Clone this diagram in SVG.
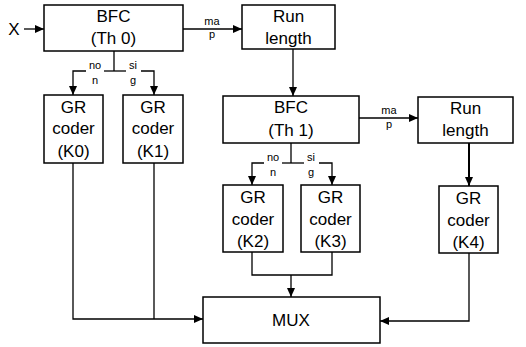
<svg xmlns="http://www.w3.org/2000/svg" width="526" height="347" viewBox="0 0 526 347">
<style>
.box{fill:#fff;stroke:#000;stroke-width:1.5}
.t{font-family:"Liberation Sans",Arial,sans-serif;font-size:17px;fill:#000;text-anchor:middle}
.s{font-family:"Liberation Sans",Arial,sans-serif;font-size:11px;fill:#000;text-anchor:middle}
.ln{fill:none;stroke:#000;stroke-width:1.3}
.lt{fill:none;stroke:#000;stroke-width:2}
</style>
<defs>
<marker id="ah" markerWidth="9" markerHeight="8" refX="9" refY="4" orient="auto" markerUnits="userSpaceOnUse">
<path d="M0,0 L9,4 L0,8 Z" fill="#000"/>
</marker>
</defs>
<rect width="526" height="347" fill="#fff"/>
<g id="connectors">
<text class="t" x="14" y="35">X</text>
<line class="ln" x1="24" y1="29" x2="44" y2="29" marker-end="url(#ah)"/>
<line class="ln" x1="183" y1="29" x2="242" y2="29" marker-end="url(#ah)"/>
<text class="s" x="212" y="25">ma</text>
<text class="s" x="212" y="38">p</text>
<line class="ln" x1="293" y1="49" x2="293" y2="96" marker-end="url(#ah)"/>
<line class="ln" x1="359" y1="118" x2="418" y2="118" marker-end="url(#ah)"/>
<text class="s" x="389" y="114">ma</text>
<text class="s" x="389" y="128">p</text>
<line class="lt" x1="469" y1="143" x2="469" y2="186" marker-end="url(#ah)"/>
<line class="ln" x1="114" y1="51" x2="114" y2="71"/>
<path class="ln" d="M86,71 H73 V95" marker-end="url(#ah)"/>
<path class="ln" d="M104,71 H126"/>
<path class="ln" d="M141,71 H154 V95" marker-end="url(#ah)"/>
<text class="s" x="95" y="69">no</text>
<text class="s" x="95" y="84">n</text>
<text class="s" x="133" y="69">si</text>
<text class="s" x="133" y="84">g</text>
<line class="ln" x1="291" y1="143" x2="291" y2="163"/>
<path class="ln" d="M264,163 H252 V185" marker-end="url(#ah)"/>
<path class="ln" d="M282,163 H304"/>
<path class="ln" d="M319,163 H332 V185" marker-end="url(#ah)"/>
<text class="s" x="273" y="161">no</text>
<text class="s" x="273" y="176">n</text>
<text class="s" x="311" y="161">si</text>
<text class="s" x="311" y="176">g</text>
<path class="ln" d="M73,163 V319 H203" marker-end="url(#ah)"/>
<line class="ln" x1="154" y1="163" x2="154" y2="319"/>
<path class="ln" d="M252,252 V275 H332 V252"/>
<line class="ln" x1="291" y1="275" x2="291" y2="297" marker-end="url(#ah)"/>
<path class="ln" d="M469,253 V321 H380" marker-end="url(#ah)"/>
</g>
<g id="bfc0">
<rect class="box" x="44" y="5" width="139" height="46"/>
<text class="t" x="113.5" y="22">BFC</text>
<text class="t" x="113.5" y="44">(Th 0)</text>
</g>
<g id="rl1">
<rect class="box" x="242" y="5" width="93" height="44"/>
<text class="t" x="288.5" y="22">Run</text>
<text class="t" x="288.5" y="44">length</text>
</g>
<g id="bfc1">
<rect class="box" x="223" y="96" width="136" height="47"/>
<text class="t" x="291" y="113">BFC</text>
<text class="t" x="291" y="136">(Th 1)</text>
</g>
<g id="rl2">
<rect class="box" x="418" y="97" width="95" height="46"/>
<text class="t" x="465.5" y="114">Run</text>
<text class="t" x="465.5" y="136">length</text>
</g>
<g id="gr0">
<rect class="box" x="44" y="95" width="59" height="68"/>
<text class="t" x="73.5" y="113">GR</text>
<text class="t" x="73.5" y="134">coder</text>
<text class="t" x="73.5" y="157">(K0)</text>
</g>
<g id="gr1">
<rect class="box" x="123" y="95" width="60" height="68"/>
<text class="t" x="153" y="113">GR</text>
<text class="t" x="153" y="134">coder</text>
<text class="t" x="153" y="157">(K1)</text>
</g>
<g id="gr2">
<rect class="box" x="223" y="185" width="60" height="67"/>
<text class="t" x="253" y="203">GR</text>
<text class="t" x="253" y="225">coder</text>
<text class="t" x="253" y="247">(K2)</text>
</g>
<g id="gr3">
<rect class="box" x="301" y="185" width="59" height="67"/>
<text class="t" x="330.5" y="203">GR</text>
<text class="t" x="330.5" y="225">coder</text>
<text class="t" x="330.5" y="247">(K3)</text>
</g>
<g id="gr4">
<rect class="box" x="439" y="186" width="59" height="67"/>
<text class="t" x="468.5" y="204">GR</text>
<text class="t" x="468.5" y="226">coder</text>
<text class="t" x="468.5" y="248">(K4)</text>
</g>
<g id="mux">
<rect class="box" x="203" y="297" width="177" height="46"/>
<text class="t" x="291" y="326">MUX</text>
</g>
</svg>
